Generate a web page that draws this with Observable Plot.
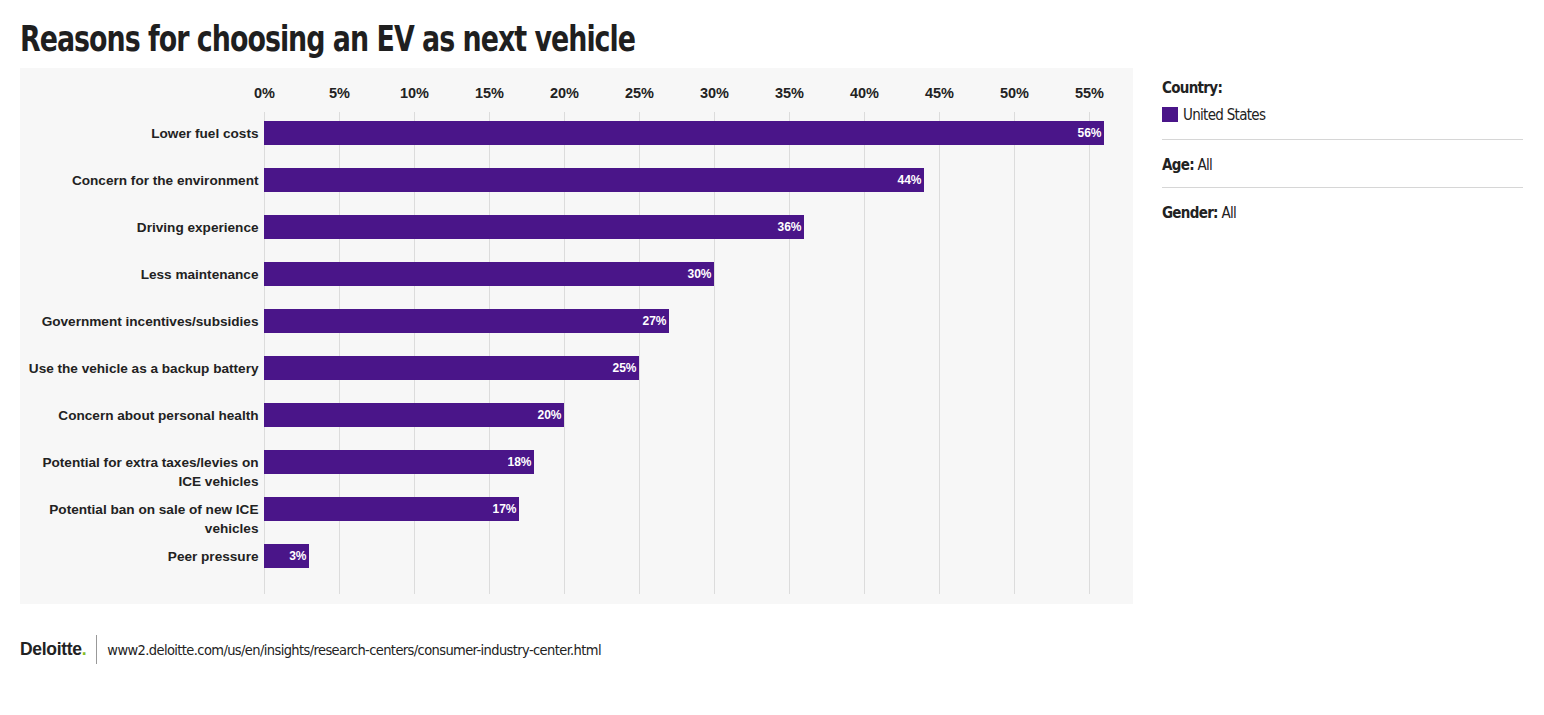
<!DOCTYPE html>
<html>
<head>
<meta charset="utf-8">
<script src="https://cdn.jsdelivr.net/npm/d3@7"></script>
<script src="https://cdn.jsdelivr.net/npm/@observablehq/plot@0.6"></script>
<style>
  body { margin: 0; background: #fff; font-family: "Liberation Sans", Arial, sans-serif; color: #222; }
  #title { position: absolute; left: 20px; top: 18px; font-family: "DejaVu Sans Condensed", "DejaVu Sans", sans-serif; font-weight: bold; font-size: 36px; letter-spacing: -1.2px; color: #1f1f1f; white-space: nowrap; transform: scaleX(0.83); transform-origin: left top; }
  #chart { position: absolute; left: 20px; top: 68px; width: 1113px; height: 536px; background: #f7f7f7; }
  #legend { position: absolute; left: 1162px; top: 79px; width: 361px; font-family: "DejaVu Sans Condensed", "DejaVu Sans", sans-serif; font-size: 15px; letter-spacing: -0.7px; color: #222; }
  #legend .row { padding: 0; }
  #legend .sep { border-top: 1px solid #d6d6d6; margin: 0; }
  #legend b { font-weight: bold; }
  .sw { display: inline-block; width: 16px; height: 15px; background: #4a1589; vertical-align: -2px; margin-right: 5px; }
  #footer { position: absolute; left: 20px; top: 635px; height: 29px; display: flex; align-items: center; font-family: "DejaVu Sans Condensed", "DejaVu Sans", sans-serif; font-size: 14.5px; color: #222; }
  #footer .logo { font-family: "Liberation Sans", Arial, sans-serif; font-weight: bold; font-size: 17.5px; letter-spacing: -0.3px; padding-right: 10px; border-right: 1px solid #999; height: 29px; line-height: 29px; }
  #footer .logo span { color: #86bc25; }
  #footer .url { padding-left: 10px; letter-spacing: -0.6px; }
</style>
</head>
<body>
<div id="title">Reasons for choosing an EV as next vehicle</div>
<div id="chart"></div>
<div id="legend">
  <div class="row" style="height:27px"><b>Country:</b></div>
  <div class="row" style="height:33px"><span class="sw"></span>United States</div>
  <div class="sep"></div>
  <div class="row" style="height:47px;line-height:50px"><b>Age:</b> All</div>
  <div class="sep"></div>
  <div class="row" style="height:47px;line-height:50px"><b>Gender:</b> All</div>
</div>
<div id="footer"><div class="logo">Deloitte<span>.</span></div><div class="url">www2.deloitte.com/us/en/insights/research-centers/consumer-industry-center.html</div></div>
<script>
const reasons = [
  "Lower fuel costs",
  "Concern for the environment",
  "Driving experience",
  "Less maintenance",
  "Government incentives/subsidies",
  "Use the vehicle as a backup battery",
  "Concern about personal health",
  "Potential for extra taxes/levies on\nICE vehicles",
  "Potential ban on sale of new ICE\nvehicles",
  "Peer pressure"
];
const values = [56, 44, 36, 30, 27, 25, 20, 18, 17, 3];
const xTicks = [0, 5, 10, 15, 20, 25, 30, 35, 40, 45, 50, 55];
const barColor = "#4a1589";

const data = reasons.map((r, i) => ({reason: r, value: values[i]}));

const chart = Plot.plot({
  width: 1113,
  height: 536,
  marginLeft: 244,
  marginRight: 29,
  marginTop: 44,
  marginBottom: 10,
  style: {background: "#f7f7f7", fontFamily: "'Liberation Sans', Arial, sans-serif", color: "#222"},
  x: {domain: [0, 56], ticks: xTicks, tickFormat: d => d + "%"},
  y: {domain: reasons, padding: 0.49, range: [29, 524]},
  marks: [
    Plot.gridX(xTicks, {stroke: "#dcdcdc", strokeOpacity: 1}),
    Plot.axisX({anchor: "top", ticks: xTicks, tickSize: 0, tickPadding: 15, fontSize: 14.5, fontWeight: "bold", label: null, tickFormat: d => d + "%"}),
    Plot.axisY({tickSize: 0, tickPadding: 6, fontSize: 13.6, fontWeight: "bold", label: null, lineAnchor: "top", lineHeight: 1.4, dy: -9}),
    Plot.barX(data, {x: "value", y: "reason", fill: barColor}),
    Plot.text(data, {x: "value", y: "reason", text: d => d.value + "%", textAnchor: "end", dx: -3, fill: "white", fontWeight: "bold", fontSize: 12})
  ]
});
document.getElementById("chart").appendChild(chart);
</script>
</body>
</html>
